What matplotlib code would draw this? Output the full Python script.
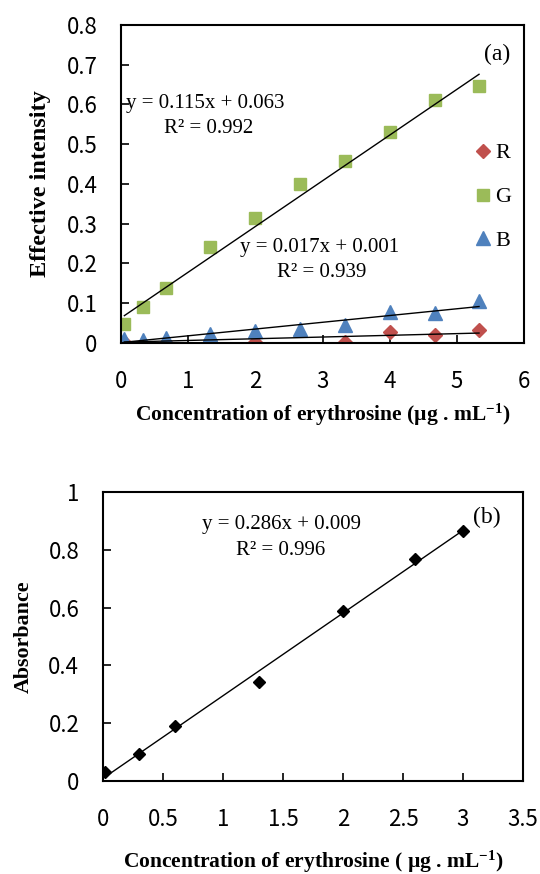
import numpy as np
import matplotlib
matplotlib.use("Agg")
import matplotlib.pyplot as plt

plt.rcParams['mathtext.fontset'] = 'custom'
plt.rcParams['mathtext.bf'] = 'Liberation Serif:bold'
plt.rcParams['mathtext.rm'] = 'Liberation Serif'
plt.rcParams['mathtext.default'] = 'bf'

# (a) RGB effective intensity vs concentration
conc_a = [0.05, 0.33, 0.67, 1.33, 2.0, 2.67, 3.33, 4.0, 4.67, 5.33]
g_vals = [0.048, 0.090, 0.138, 0.241, 0.314, 0.400, 0.459, 0.532, 0.612, 0.647]
b_vals = [0.010, 0.008, 0.013, 0.023, 0.029, 0.035, 0.044, 0.078, 0.075, 0.105]
conc_r = [0.05, 0.67, 1.33, 2.0, 3.33, 4.0, 4.67, 5.33]
r_vals = [0.002, 0.000, 0.002, 0.003, 0.003, 0.028, 0.021, 0.032]
fit_g = (0.115, 0.063)
fit_b = (0.017, 0.001)
fit_r = (0.0043, 0.002)

# (b) absorbance vs concentration
conc_b = [0.02, 0.3, 0.6, 1.3, 2.0, 2.6, 3.0]
absorb = [0.031, 0.095, 0.19, 0.343, 0.588, 0.769, 0.865]
fit_abs = (0.286, 0.009)

red, green, blue = '#C0504D', '#9BBB59', '#4F81BD'
serif = 'Liberation Serif'
tickfont = ['Noto Sans CJK JP', 'DejaVu Sans']

fig = plt.figure(figsize=(5.4, 8.74), dpi=100)
ax1 = fig.add_axes([0.2241, 0.6076, 0.7463, 0.3638])
ax2 = fig.add_axes([0.1907, 0.1064, 0.7778, 0.3307])


def style(ax):
    for s in ax.spines.values():
        s.set_linewidth(1.5)
    ax.tick_params(direction='in', length=5.5, width=1.2, labelsize=16, pad=17)
    ax.tick_params(axis='x', pad=19.5)
    for lab in ax.get_xticklabels() + ax.get_yticklabels():
        lab.set_family(tickfont)


def fitline(ax, x, coef):
    xx = np.array([min(x), max(x)])
    ax.plot(xx, coef[0] * xx + coef[1], color='black', lw=1.0, zorder=3)


# panel a
fitline(ax1, conc_a, fit_g)
fitline(ax1, conc_a, fit_b)
fitline(ax1, conc_a, fit_r)
ax1.plot(conc_r, r_vals, 'D', color=red, ms=7, ls='none', label='R', zorder=2)
ax1.plot(conc_a, g_vals, 's', color=green, ms=8, ls='none', label='G', zorder=2)
ax1.plot(conc_a, b_vals, '^', color=blue, ms=9.5, ls='none', label='B', zorder=2)
ax1.set_xlim(0, 6)
ax1.set_ylim(0, 0.8)
ax1.set_xticks(range(0, 7))
ax1.set_yticks(np.arange(0, 0.81, 0.1))
ax1.set_yticklabels(['0', '0.1', '0.2', '0.3', '0.4', '0.5', '0.6', '0.7', '0.8'])
style(ax1)
ax1.set_xlabel('Concentration of erythrosine (µg . mL$^{-1}$)', family=serif,
               fontweight='bold', fontsize=15.5, labelpad=6.5)
ax1.set_ylabel('Effective intensity', family=serif, fontweight='bold',
               fontsize=17.5, labelpad=11)
ax1.text(0.0124, 0.7516, 'y = 0.115x + 0.063', transform=ax1.transAxes,
         family=serif, fontsize=15, va='center', ha='left')
ax1.text(0.217, 0.673, 'R² = 0.992', transform=ax1.transAxes,
         family=serif, fontsize=15, va='center', ha='center')
ax1.text(0.295, 0.299, 'y = 0.017x + 0.001', transform=ax1.transAxes,
         family=serif, fontsize=15, va='center', ha='left')
ax1.text(0.498, 0.223, 'R² = 0.939', transform=ax1.transAxes,
         family=serif, fontsize=15, va='center', ha='center')
ax1.text(0.933, 0.906, '(a)', transform=ax1.transAxes,
         family=serif, fontsize=17, va='center', ha='center')
leg = ax1.legend(loc='center left', bbox_to_anchor=(0.827, 0.459), frameon=False,
                 handlelength=0.8, handletextpad=0.15, labelspacing=1.05,
                 numpoints=1, prop={'family': serif, 'size': 16})

# panel b
fitline(ax2, conc_b, fit_abs)
ax2.plot(conc_b, absorb, 'D', color='black', ms=6, ls='none', zorder=4)
ax2.set_xlim(0, 3.5)
ax2.set_ylim(0, 1)
ax2.set_xticks(np.arange(0, 3.51, 0.5))
ax2.set_xticklabels(['0', '0.5', '1', '1.5', '2', '2.5', '3', '3.5'])
ax2.set_yticks(np.arange(0, 1.01, 0.2))
ax2.set_yticklabels(['0', '0.2', '0.4', '0.6', '0.8', '1'])
style(ax2)
ax2.set_xlabel('Concentration of erythrosine ( µg . mL$^{-1}$)', family=serif,
               fontweight='bold', fontsize=15.5, labelpad=12.5)
ax2.set_ylabel('Absorbance', family=serif, fontweight='bold',
               fontsize=15.8, labelpad=10.8)
ax2.text(0.426, 0.886, 'y = 0.286x + 0.009', transform=ax2.transAxes,
         family=serif, fontsize=15, va='center', ha='center')
ax2.text(0.423, 0.799, 'R² = 0.996', transform=ax2.transAxes,
         family=serif, fontsize=15, va='center', ha='center')
ax2.text(0.914, 0.913, '(b)', transform=ax2.transAxes,
         family=serif, fontsize=17, va='center', ha='center')

fig.savefig('out.png', dpi=100)
